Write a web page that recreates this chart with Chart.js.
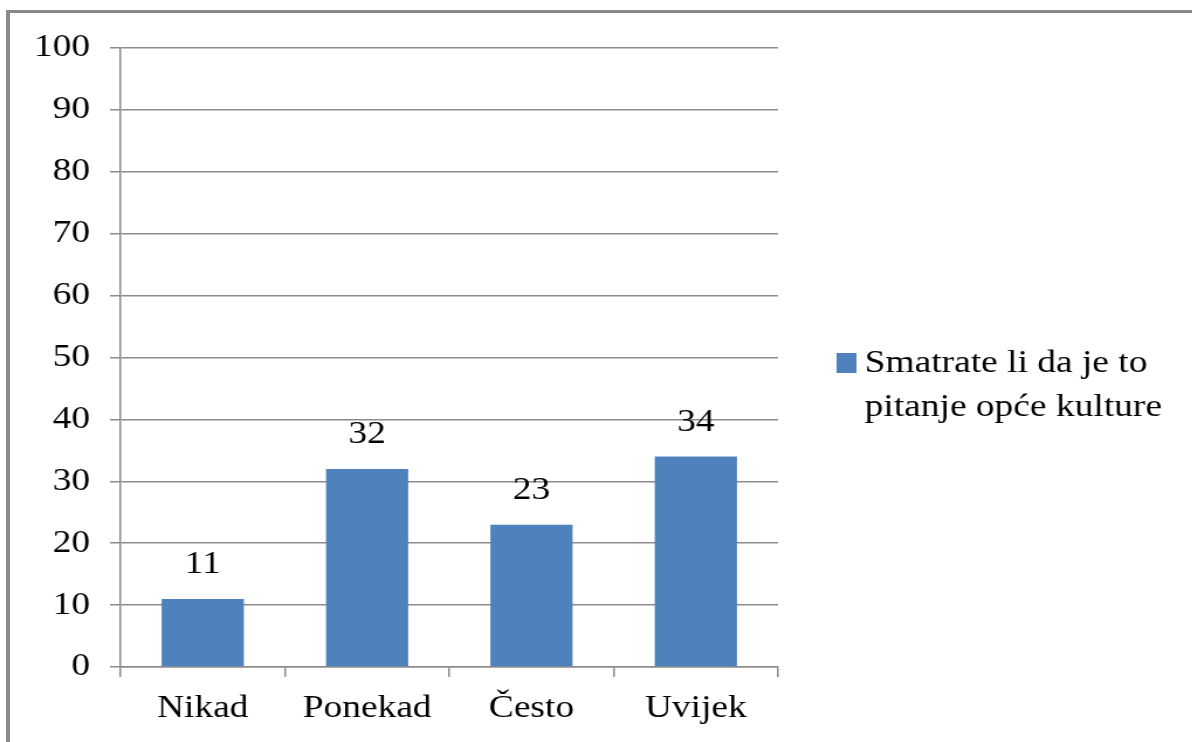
<!DOCTYPE html>
<html>
<head>
<meta charset="utf-8">
<script src="https://cdn.jsdelivr.net/npm/chart.js@4/dist/chart.umd.min.js"></script>
<style>
    html, body { margin: 0; padding: 0; background: #fff; overflow: hidden; }
    #frame {
        position: absolute; left: 6px; top: 10px; width: 1300px; height: 900px;
        border-left: 4px solid #8a8a8a; border-top: 3px solid #8a8a8a;
    }
    #chart {
        position: absolute; left: 0; top: 0;
        transform: scaleX(1.17); transform-origin: 0 0;
    }
</style>
</head>
<body>
<div id="frame"></div>
<canvas id="chart" width="1019" height="742"></canvas>
<script>
const categories = ["Nikad", "Ponekad", "Često", "Uvijek"];
const values = [11, 32, 23, 34];
const seriesLabel = "Smatrate li da je to pitanje opće kulture";
const yTicks = { min: 0, max: 100, step: 10 };

const barColor = "#4F81BD";
const gridColor = "#8c8c8c";
const fontFamily = "'Liberation Serif', 'Times New Roman', serif";

Chart.defaults.font.family = fontFamily;
Chart.defaults.font.size = 32;
Chart.defaults.color = "#000";

// value labels above each bar
const valueLabels = {
    id: "valueLabels",
    afterDatasetsDraw(chart) {
        const ctx = chart.ctx;
        const meta = chart.getDatasetMeta(0);
        ctx.save();
        ctx.font = "32px " + fontFamily;
        ctx.fillStyle = "#000";
        ctx.textAlign = "center";
        ctx.textBaseline = "middle";
        meta.data.forEach((bar, i) => {
            ctx.fillText(String(chart.data.datasets[0].data[i]), bar.x, bar.y - 34);
        });
        ctx.restore();
    }
};

// legend on the right, wrapped onto two lines
const sideLegend = {
    id: "sideLegend",
    afterDraw(chart) {
        const ctx = chart.ctx;
        const area = chart.chartArea;
        const ds = chart.data.datasets[0];
        ctx.save();
        ctx.font = "32px " + fontFamily;
        const words = ds.label.split(" ");
        const lines = [];
        let line = "";
        words.forEach(w => {
            const test = line ? line + " " + w : w;
            if (ctx.measureText(test).width > 270 && line) {
                lines.push(line);
                line = w;
            } else {
                line = test;
            }
        });
        if (line) lines.push(line);

        const mid = (area.top + area.bottom) / 2;
        const boxX = area.right + 50;
        const boxY = mid - 4.5;
        ctx.fillStyle = ds.backgroundColor;
        ctx.fillRect(boxX, boxY, 17, 20);
        ctx.fillStyle = "#000";
        ctx.textAlign = "left";
        ctx.textBaseline = "middle";
        lines.forEach((l, i) => {
            ctx.fillText(l, boxX + 24, mid + 6 + i * 44);
        });
        ctx.restore();
    }
};

new Chart(document.getElementById("chart"), {
    type: "bar",
    data: {
        labels: categories,
        datasets: [{
            label: seriesLabel,
            data: values,
            backgroundColor: barColor,
            categoryPercentage: 1,
            barPercentage: 0.5
        }]
    },
    options: {
        responsive: false,
        animation: false,
        layout: { padding: { left: 0, top: 48, right: 354, bottom: 0 } },
        plugins: {
            legend: { display: false },
            tooltip: { enabled: false }
        },
        scales: {
            x: {
                grid: { offset: true, drawOnChartArea: false, tickLength: 10, color: gridColor, lineWidth: 1.5 },
                border: { color: gridColor, width: 1.5 },
                ticks: { padding: 12 },
                afterFit: (s) => { s.height = 75; }
            },
            y: {
                min: yTicks.min,
                max: yTicks.max,
                ticks: { stepSize: yTicks.step, padding: 17 },
                grid: { tickLength: 9, color: gridColor, lineWidth: 1.5 },
                border: { color: gridColor, width: 1.5 },
                afterFit: (s) => { s.width = 103; }
            }
        }
    },
    plugins: [valueLabels, sideLegend]
});
</script>
</body>
</html>
